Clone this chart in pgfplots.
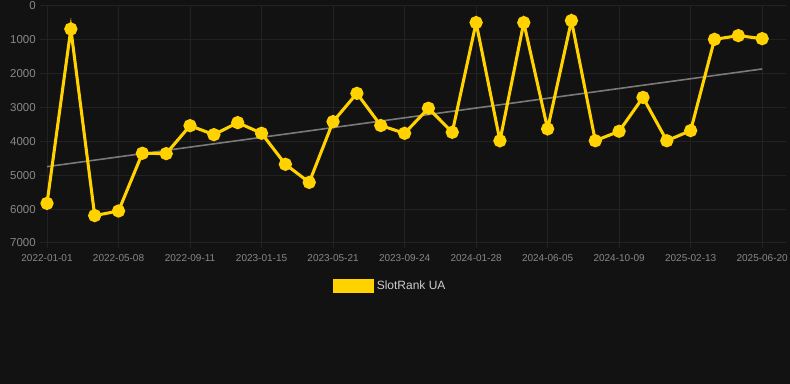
\documentclass[border=0pt]{standalone}
\usepackage{fontspec}
\setmainfont{Liberation Sans}
\usepackage{pgfplots}
\pgfplotsset{compat=1.18}
\definecolor{bg}{HTML}{121212}
\definecolor{gridc}{HTML}{222222}
\definecolor{tickc}{HTML}{888888}
\definecolor{ylw}{HTML}{FFD200}
\definecolor{trend}{HTML}{7A7A7A}
\definecolor{legc}{HTML}{CCCCCC}
\begin{document}
\begin{tikzpicture}
\fill[bg] (0,0) rectangle (592.5pt,288pt);
\useasboundingbox (0,0) rectangle (592.5pt,288pt);
\begin{axis}[
  at={(30pt,105.75pt)}, anchor=south west,
  scale only axis, width=559.5pt, height=177.75pt,
  xmin=-0.294, xmax=31.0,
  ymin=0, ymax=7000, y dir=reverse,
  xtick={0,3,...,30},
  xticklabels={2022-01-01,2022-05-08,2022-09-11,2023-01-15,2023-05-21,2023-09-24,2024-01-28,2024-06-05,2024-10-09,2025-02-13,2025-06-20},
  ytick={0,1000,...,7000},
  yticklabel style={font=\fontsize{8.6pt}{10pt}\selectfont, text=tickc, inner sep=1.5pt, xshift=2.5pt},
  xticklabel style={font=\fontsize{7.5pt}{8pt}\selectfont, text=tickc, yshift=-1pt},
  /pgf/number format/assume math mode=true,
  scaled y ticks=false,
  yticklabel={\pgfmathprintnumber[1000 sep={}]{\tick}},
  grid=major, major grid style={gridc, line width=0.75pt},
  axis line style={draw=none},
  tick style={gridc, line width=0.75pt},
  x tick style={gridc},
  xtick pos=bottom, ytick pos=left,
  tick align=outside,
  major tick length=4pt,
  ytick style={draw=none},
  legend style={at={(0.47,-0.137)}, anchor=north, draw=none, fill=none, text=legc, font=\fontsize{9pt}{10pt}\selectfont},
  legend cell align=left,
  clip=false,
]
\addplot[trend, line width=1.2pt, forget plot] coordinates {(0,4745) (30,1860)};
\addplot[ylw, line width=2.3pt, line join=miter, mark=*, mark size=3.8pt, mark options={fill=ylw, draw=none},
  legend image code/.code={\fill[ylw] (-1pt,-4.1pt) rectangle (27.5pt,4.1pt);}]
coordinates {
(0,5830) (1,680) (2,6190) (3,6055) (4,4350) (5,4360) (6,3535) (7,3800) (8,3445) (9,3760)
(10,4675) (11,5210) (12,3415) (13,2580) (14,3530) (15,3760) (16,3020) (17,3730) (18,490) (19,3980)
(20,490) (21,3630) (22,430) (23,3980) (24,3700) (25,2700) (26,3980) (27,3680) (28,985) (29,875) (30,965)
};
\addlegendentry{SlotRank UA}
\end{axis}
\end{tikzpicture}
\end{document}
